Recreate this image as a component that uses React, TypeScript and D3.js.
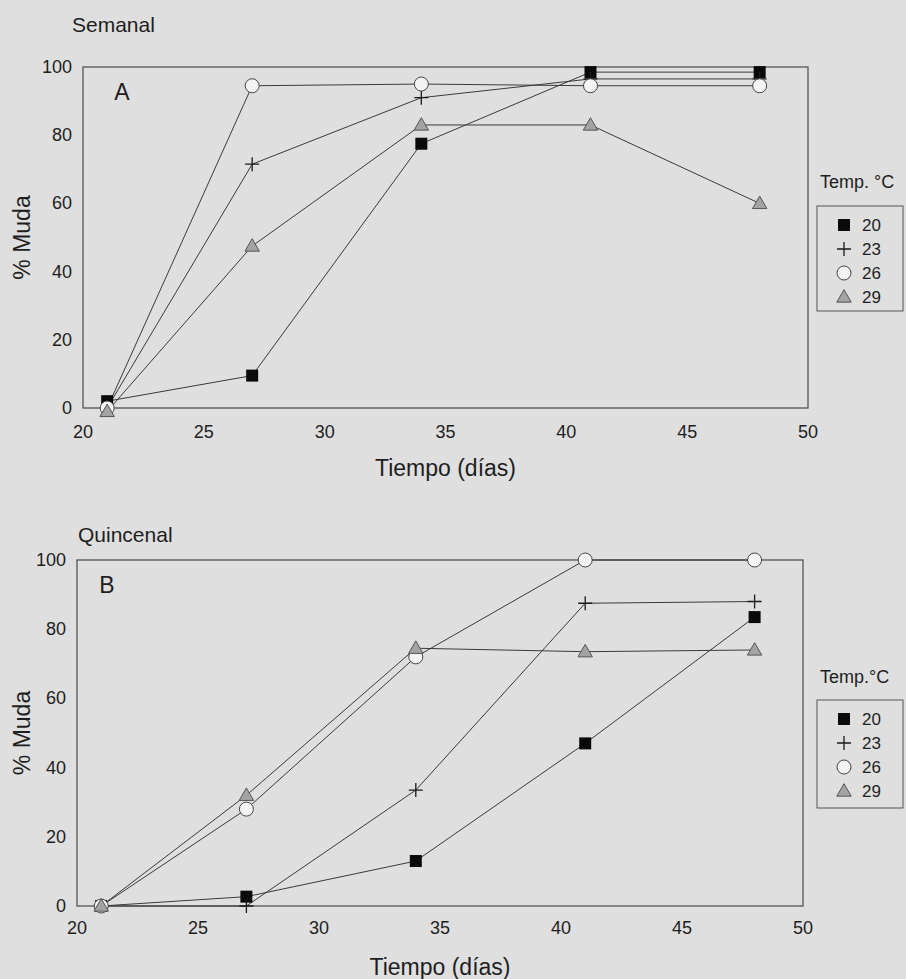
import React from 'react';
import * as d3 from 'd3';

// days sampled
const days = [21, 27, 34, 41, 48];
const temps = ['20', '23', '26', '29'];
const xTicks = [20, 25, 30, 35, 40, 45, 50];
const yTicks = [0, 20, 40, 60, 80, 100];

// Semanal (A)
const semanal20 = [2, 9.5, 77.5, 98.5, 98.5];
const semanal23 = [0, 71.5, 91, 96.5, 96.5];
const semanal26 = [0, 94.5, 95, 94.5, 94.5];
const semanal29 = [-1, 47.5, 83, 83, 60];

// Quincenal (B)
const quincenal20 = [0, 2.7, 13, 47, 83.5];
const quincenal23 = [0, 0, 33.5, 87.5, 88];
const quincenal26 = [0, 28, 72, 100, 100];
const quincenal29 = [0, 32, 74.5, 73.5, 74];

const FONT = 'Liberation Sans, Arial, sans-serif';
const BG = '#dfdfdf';
const INK = '#1e1e1e';
const LINE = '#3a3a3a';

const Marker = ({ kind, x, y }: { kind: string; x: number; y: number }) => {
  if (kind === '20') return <rect x={x - 6} y={y - 6} width={12} height={12} fill="#0a0a0a" />;
  if (kind === '23')
    return (
      <path d={`M${x - 7},${y}H${x + 7}M${x},${y - 7}V${y + 7}`} stroke="#1a1a1a" strokeWidth={1.3} />
    );
  if (kind === '26') return <circle cx={x} cy={y} r={7} fill="#f4f4f4" stroke="#444" strokeWidth={1} />;
  const s = d3.symbol(d3.symbolTriangle, 90)();
  return <path d={s as string} transform={`translate(${x},${y + 1})`} fill="#a3a3a3" stroke="#555" strokeWidth={1} />;
};

const Panel = ({ cfg }: { cfg: any }) => {
  const x = d3.scaleLinear().domain([20, 50]).range([cfg.left, cfg.right]);
  const y = d3.scaleLinear().domain([0, 100]).range([cfg.bottom, cfg.top]);
  const line = d3.line<number>().x((_, i) => x(days[i])).y((d) => y(d));
  const series: number[][] = cfg.series;
  const midX = (cfg.left + cfg.right) / 2;
  const midY = (cfg.top + cfg.bottom) / 2;
  return (
    <g fontFamily={FONT} fill={INK}>
      <text x={cfg.titleX} y={cfg.titleY} fontSize={21}>{cfg.title}</text>
      <rect x={cfg.left} y={cfg.top} width={cfg.right - cfg.left} height={cfg.bottom - cfg.top} fill="none" stroke="#555" strokeWidth={1.3} />
      <text x={cfg.letterX} y={cfg.letterY} fontSize={23} textAnchor="middle" dominantBaseline="central">{cfg.letter}</text>
      {yTicks.map((t) => (
        <text key={t} x={cfg.left - 11} y={y(t)} fontSize={18} textAnchor="end" dominantBaseline="central">{t}</text>
      ))}
      {xTicks.map((t) => (
        <text key={t} x={x(t)} y={cfg.bottom + cfg.xLabelGap} fontSize={18} textAnchor="middle" dominantBaseline="central">{t}</text>
      ))}
      <text x={midX} y={cfg.xTitleY} fontSize={23} textAnchor="middle" dominantBaseline="central">Tiempo (días)</text>
      <text transform={`translate(22,${midY}) rotate(-90)`} fontSize={23} textAnchor="middle" dominantBaseline="central">% Muda</text>
      {series.map((s, k) => (
        <path key={k} d={line(s) as string} fill="none" stroke={LINE} strokeWidth={1} />
      ))}
      {series.map((s, k) =>
        s.map((v, i) => <Marker key={`${k}-${i}`} kind={temps[k]} x={x(days[i])} y={y(v)} />)
      )}
      <text x={cfg.legX + 3} y={cfg.legTitleY} fontSize={18}>{cfg.legTitle}</text>
      <rect x={cfg.legX} y={cfg.legTop} width={86} height={cfg.legH} fill="none" stroke="#555" strokeWidth={1} />
      {temps.map((t, i) => (
        <g key={t}>
          <Marker kind={t} x={cfg.legX + 27} y={cfg.legTop + 19 + i * 24} />
          <text x={cfg.legX + 45} y={cfg.legTop + 19 + i * 24} fontSize={17} dominantBaseline="central">{t}</text>
        </g>
      ))}
    </g>
  );
};

const panelA = {
  title: 'Semanal', titleX: 72, titleY: 32, letter: 'A', letterX: 122, letterY: 92,
  left: 83, right: 808, top: 67, bottom: 408, xLabelGap: 24, xTitleY: 468,
  legTitle: 'Temp. °C', legX: 817, legTitleY: 188, legTop: 206, legH: 105,
  series: [semanal20, semanal23, semanal26, semanal29],
};

const panelB = {
  title: 'Quincenal', titleX: 78, titleY: 542, letter: 'B', letterX: 107, letterY: 585,
  left: 77, right: 803, top: 560, bottom: 906, xLabelGap: 22, xTitleY: 967,
  legTitle: 'Temp.°C', legX: 817, legTitleY: 683, legTop: 700, legH: 108,
  series: [quincenal20, quincenal23, quincenal26, quincenal29],
};

export default function App() {
  return (
    <svg width={906} height={979} style={{ position: 'absolute', left: 0, top: 0, background: BG }}>
      <rect width={906} height={979} fill={BG} />
      <Panel cfg={panelA} />
      <Panel cfg={panelB} />
    </svg>
  );
}
